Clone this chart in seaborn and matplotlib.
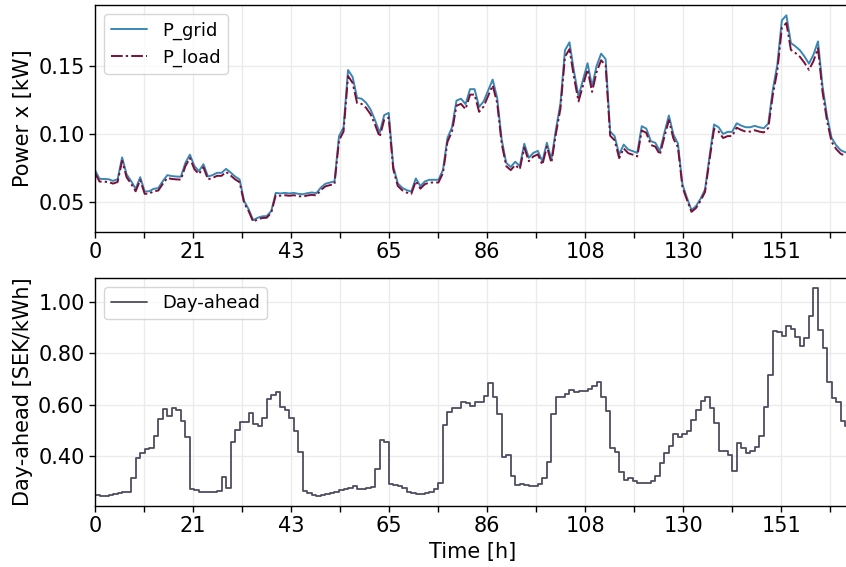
import numpy as np
import pandas as pd
import matplotlib
matplotlib.use("Agg")
import matplotlib.pyplot as plt
import seaborn as sns

# Hourly series over one week
hours = np.arange(168)

p_grid = [
    0.0737, 0.0673, 0.0672, 0.0670, 0.0658, 0.0670, 0.0830, 0.0705, 0.0656, 0.0600,
    0.0685, 0.0580, 0.0582, 0.0600, 0.0605, 0.0656, 0.0700, 0.0693, 0.0690, 0.0688,
    0.0790, 0.0850, 0.0766, 0.0730, 0.0780, 0.0690, 0.0700, 0.0717, 0.0717, 0.0746,
    0.0720, 0.0690, 0.0668, 0.0510, 0.0450, 0.0370, 0.0388, 0.0398, 0.0400, 0.0437,
    0.0570, 0.0566, 0.0570, 0.0566, 0.0570, 0.0563, 0.0560, 0.0568, 0.0573, 0.0568,
    0.0610, 0.0637, 0.0646, 0.0654, 0.0985, 0.1050, 0.1470, 0.1420, 0.1266, 0.1260,
    0.1230, 0.1180, 0.1100, 0.1010, 0.1140, 0.1156, 0.0766, 0.0640, 0.0607, 0.0590,
    0.0580, 0.0676, 0.0620, 0.0654, 0.0666, 0.0666, 0.0666, 0.0737, 0.0973, 0.1050,
    0.1246, 0.1260, 0.1220, 0.1330, 0.1330, 0.1200, 0.1240, 0.1320, 0.1400, 0.1266,
    0.0960, 0.0790, 0.0760, 0.0798, 0.0766, 0.0930, 0.0827, 0.0863, 0.0878, 0.0800,
    0.0937, 0.0815, 0.1034, 0.1224, 0.1615, 0.1673, 0.1460, 0.1278, 0.1400, 0.1520,
    0.1350, 0.1500, 0.1590, 0.1550, 0.1020, 0.0985, 0.0851, 0.0924, 0.0888, 0.0876,
    0.0863, 0.1059, 0.1041, 0.0949, 0.0937, 0.0876, 0.1010, 0.1137, 0.0998, 0.0932,
    0.0632, 0.0534, 0.0444, 0.0473, 0.0527, 0.0595, 0.0839, 0.1071, 0.1051, 0.1002,
    0.1017, 0.1017, 0.1080, 0.1063, 0.1051, 0.1051, 0.1061, 0.1051, 0.1044, 0.1078,
    0.1327, 0.1510, 0.1834, 0.1871, 0.1668, 0.1644, 0.1615, 0.1570, 0.1517, 0.1583,
    0.1680, 0.1351, 0.1132, 0.0973, 0.0920, 0.0883, 0.0868, 0.0863,
]

p_load = [
    0.0715, 0.0653, 0.0652, 0.0650, 0.0638, 0.0650, 0.0805, 0.0684, 0.0636, 0.0582,
    0.0664, 0.0563, 0.0565, 0.0582, 0.0587, 0.0636, 0.0679, 0.0672, 0.0669, 0.0667,
    0.0766, 0.0825, 0.0743, 0.0708, 0.0757, 0.0669, 0.0679, 0.0695, 0.0695, 0.0724,
    0.0698, 0.0669, 0.0648, 0.0495, 0.0437, 0.0359, 0.0376, 0.0386, 0.0388, 0.0424,
    0.0553, 0.0549, 0.0553, 0.0549, 0.0553, 0.0546, 0.0543, 0.0551, 0.0556, 0.0551,
    0.0592, 0.0618, 0.0627, 0.0634, 0.0955, 0.1019, 0.1426, 0.1377, 0.1228, 0.1222,
    0.1193, 0.1145, 0.1067, 0.0980, 0.1106, 0.1121, 0.0743, 0.0621, 0.0589, 0.0572,
    0.0563, 0.0656, 0.0601, 0.0634, 0.0646, 0.0646, 0.0646, 0.0715, 0.0944, 0.1019,
    0.1209, 0.1222, 0.1183, 0.1290, 0.1290, 0.1164, 0.1203, 0.1280, 0.1358, 0.1228,
    0.0931, 0.0766, 0.0737, 0.0774, 0.0743, 0.0902, 0.0802, 0.0837, 0.0852, 0.0776,
    0.0909, 0.0791, 0.1003, 0.1187, 0.1567, 0.1623, 0.1416, 0.1240, 0.1358, 0.1474,
    0.1310, 0.1455, 0.1542, 0.1504, 0.0989, 0.0955, 0.0825, 0.0896, 0.0861, 0.0850,
    0.0837, 0.1027, 0.1010, 0.0921, 0.0909, 0.0850, 0.0980, 0.1103, 0.0968, 0.0904,
    0.0613, 0.0518, 0.0431, 0.0459, 0.0511, 0.0577, 0.0814, 0.1039, 0.1019, 0.0972,
    0.0986, 0.0986, 0.1048, 0.1031, 0.1019, 0.1019, 0.1029, 0.1019, 0.1013, 0.1046,
    0.1287, 0.1465, 0.1779, 0.1815, 0.1618, 0.1595, 0.1567, 0.1523, 0.1471, 0.1536,
    0.1630, 0.1310, 0.1098, 0.0944, 0.0892, 0.0857, 0.0842, 0.0837,
]

day_ahead = [
    0.252, 0.248, 0.248, 0.252, 0.256, 0.258, 0.264, 0.264, 0.318, 0.393,
    0.412, 0.429, 0.432, 0.479, 0.545, 0.584, 0.558, 0.587, 0.580, 0.537,
    0.475, 0.273, 0.270, 0.264, 0.261, 0.261, 0.261, 0.266, 0.319, 0.276,
    0.457, 0.504, 0.535, 0.535, 0.567, 0.525, 0.519, 0.550, 0.621, 0.638,
    0.649, 0.593, 0.580, 0.550, 0.499, 0.419, 0.266, 0.257, 0.251, 0.248,
    0.251, 0.254, 0.260, 0.264, 0.270, 0.273, 0.279, 0.284, 0.274, 0.274,
    0.277, 0.282, 0.351, 0.465, 0.457, 0.295, 0.291, 0.286, 0.277, 0.264,
    0.258, 0.253, 0.253, 0.257, 0.264, 0.274, 0.298, 0.522, 0.574, 0.587,
    0.587, 0.612, 0.606, 0.596, 0.610, 0.610, 0.636, 0.686, 0.632, 0.566,
    0.398, 0.406, 0.326, 0.289, 0.293, 0.289, 0.287, 0.287, 0.292, 0.315,
    0.377, 0.565, 0.630, 0.630, 0.642, 0.659, 0.649, 0.654, 0.654, 0.660,
    0.675, 0.690, 0.632, 0.576, 0.432, 0.419, 0.339, 0.309, 0.315, 0.305,
    0.298, 0.296, 0.296, 0.305, 0.326, 0.376, 0.412, 0.442, 0.486, 0.477,
    0.487, 0.500, 0.541, 0.579, 0.616, 0.630, 0.587, 0.528, 0.422, 0.422,
    0.406, 0.344, 0.453, 0.432, 0.412, 0.421, 0.435, 0.481, 0.590, 0.716,
    0.888, 0.884, 0.868, 0.906, 0.894, 0.863, 0.828, 0.858, 0.944, 1.052,
    0.890, 0.819, 0.687, 0.625, 0.612, 0.539, 0.519, 0.519,
]

x_tick_labels = ["0", "21", "43", "65", "86", "108", "130", "151"]
x_tick_step = 21.69
power_ticks = [0.05, 0.10, 0.15]
price_ticks = [0.40, 0.60, 0.80, 1.00]

sns.set_theme(style="ticks", rc={
    "axes.edgecolor": "black",
    "axes.labelcolor": "black",
    "text.color": "black",
    "axes.linewidth": 1.0,
    "xtick.color": "black",
    "ytick.color": "black",
    "xtick.labelcolor": "black",
    "ytick.labelcolor": "black",
    "xtick.direction": "out",
    "ytick.direction": "out",
    "xtick.major.size": 4,
    "ytick.major.size": 4,
    "xtick.major.width": 1.0,
    "ytick.major.width": 1.0,
    "grid.color": "#ebebeb",
    "grid.linewidth": 1.0,
})
plt.rcParams["font.family"] = ["DejaVu Sans"]

df = pd.DataFrame({"hour": hours, "P_grid": p_grid, "P_load": p_load,
                   "Day-ahead": day_ahead})

fig = plt.figure(figsize=(8.46, 5.67), dpi=100)
ax1 = fig.add_axes([0.1123, 0.5908, 0.892, 0.4004])
ax2 = fig.add_axes([0.1123, 0.1076, 0.892, 0.4021])

sns.lineplot(data=df, x="hour", y="P_grid", ax=ax1, color="#3a87b4",
             linewidth=1.4, label="P_grid")
sns.lineplot(data=df, x="hour", y="P_load", ax=ax1, color="#7a0f38",
             linewidth=1.4, linestyle=(0, (6, 1.6, 1.2, 1.6)), label="P_load")

sns.lineplot(data=df, x="hour", y="Day-ahead", ax=ax2, color="#4d4d60",
             linewidth=1.3, drawstyle="steps-post", label="Day-ahead")

# Tick positions: labelled ones every step, unlabelled halfway between
half_ticks = np.arange(2 * len(x_tick_labels)) * x_tick_step / 2
half_labels = []
for lab in x_tick_labels:
    half_labels += [lab, ""]

for ax in (ax1, ax2):
    ax.set_xlim(0, 167)
    ax.set_xticks(half_ticks)
    ax.set_xticklabels(half_labels)
    ax.tick_params(axis="both", labelsize=15, colors="black")
    ax.grid(True, axis="both")
    ax.set_axisbelow(True)
    for s in ax.spines.values():
        s.set_visible(True)
        s.set_color("black")

ax1.set_yticks(power_ticks)
ax1.set_yticklabels([f"{v:.2f}" for v in power_ticks])
ax1.set_ylabel("Power x [kW]", fontsize=15, color="black")
ax1.set_xlabel("")

ax2.set_yticks(price_ticks)
ax2.set_yticklabels([f"{v:.2f}" for v in price_ticks])
ax2.set_ylabel("Day-ahead [SEK/kWh]", fontsize=15, color="black")
ax2.set_xlabel("Time [h]", fontsize=15, color="black")

for ax in (ax1, ax2):
    leg = ax.legend(loc="upper left", fontsize=13, frameon=True, fancybox=True,
                    framealpha=0.8, edgecolor="#cccccc")
    for t in leg.get_texts():
        t.set_color("black")

fig.savefig("out.png", dpi=100)
